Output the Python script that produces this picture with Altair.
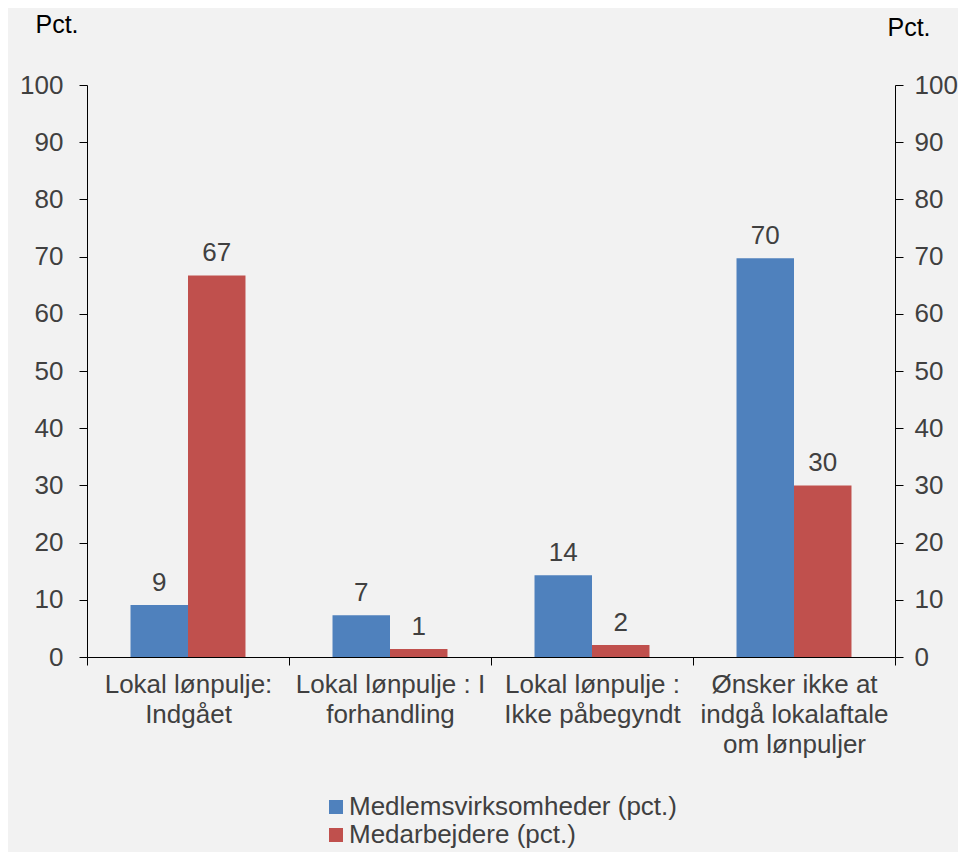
import altair as alt
import pandas as pd

categories = [
    "Lokal lønpulje:|Indgået",
    "Lokal lønpulje : I|forhandling",
    "Lokal lønpulje :|Ikke påbegyndt",
    "Ønsker ikke at|indgå lokalaftale|om lønpuljer",
]
series = ["Medlemsvirksomheder (pct.)", "Medarbejdere (pct.)"]
medlemsvirksomheder = [9.1, 7.3, 14.3, 69.7]
medarbejdere = [66.7, 1.4, 2.1, 30.0]
colors = ["#4f81bd", "#c0504d"]
y_ticks = list(range(0, 101, 10))

rows = []
for c, a, b in zip(categories, medlemsvirksomheder, medarbejdere):
    rows.append({"kategori": c, "serie": series[0], "værdi": a})
    rows.append({"kategori": c, "serie": series[1], "værdi": b})
df = pd.DataFrame(rows)

FONT = "Liberation Sans"
FS = 26
GREY = "#404040"

x_enc = alt.X(
    "kategori:N",
    sort=categories,
    scale=alt.Scale(paddingInner=0, paddingOuter=0),
    axis=alt.Axis(
        title=None,
        labelExpr="split(datum.label, '|')",
        labelAngle=0,
        labelFontSize=FS,
        labelFont=FONT,
        labelColor=GREY,
        labelLineHeight=30,
        labelBaseline="top",
        labelPadding=6,
        labelLimit=400,
        tickBand="extent",
        tickSize=8,
        tickColor="#000000",
        domainColor="#000000",
        grid=False,
    ),
)
xoff = alt.XOffset("serie:N", sort=series, scale=alt.Scale(paddingOuter=0.757, paddingInner=0))
y_scale = alt.Scale(domain=[0, 100], nice=False)


def y_axis(orient, title_x, title_y, pad):
    return alt.Axis(
        values=y_ticks,
        orient=orient,
        title="Pct.",
        titleAngle=0,
        titleAlign="left",
        titleBaseline="alphabetic",
        titleX=title_x,
        titleY=title_y,
        titleFontSize=25,
        titleFont=FONT,
        titleFontWeight="normal",
        titleColor="#000000",
        labelFontSize=FS,
        labelFont=FONT,
        labelColor=GREY,
        labelPadding=pad,
        tickSize=8,
        tickColor="#000000",
        domainColor="#000000",
        grid=False,
    )


bars = alt.Chart(df).mark_bar().encode(
    x=x_enc,
    xOffset=xoff,
    y=alt.Y("værdi:Q", scale=y_scale, axis=y_axis("left", -52, -53, 16)),
    color=alt.Color(
        "serie:N",
        sort=series,
        scale=alt.Scale(domain=series, range=colors),
        legend=alt.Legend(
            title=None,
            orient="none",
            legendX=236,
            legendY=709,
            direction="vertical",
            symbolType="square",
            symbolSize=196,
            symbolStrokeWidth=0,
            labelFontSize=FS,
            labelFont=FONT,
            labelColor=GREY,
            labelOffset=0,
            rowPadding=2,
            labelLimit=500,
        ),
    ),
)

labels = alt.Chart(df).mark_text(
    baseline="alphabetic", dy=-14, fontSize=FS, font=FONT, color=GREY
).encode(
    x=alt.X("kategori:N", sort=categories),
    xOffset=xoff,
    y=alt.Y("værdi:Q", scale=y_scale, axis=None),
    text=alt.Text("værdi:Q", format=".0f"),
)

right = alt.Chart(df).mark_bar(opacity=0).encode(
    x=alt.X("kategori:N", sort=categories),
    xOffset=xoff,
    y=alt.Y("værdi:Q", scale=y_scale, axis=y_axis("right", -8, -50, 11)),
)

chart = (
    alt.layer(bars, labels, right)
    .resolve_scale(y="independent")
    .properties(
        width=808,
        height=572,
        padding={"left": 79, "top": 77, "right": 63, "bottom": 195},
        autosize=alt.AutoSizeParams(type="none"),
        background="#f2f2f2",
    )
    .configure_view(stroke=None)
)

chart.save("out.html", embed_options={"renderer": "svg", "actions": False})
